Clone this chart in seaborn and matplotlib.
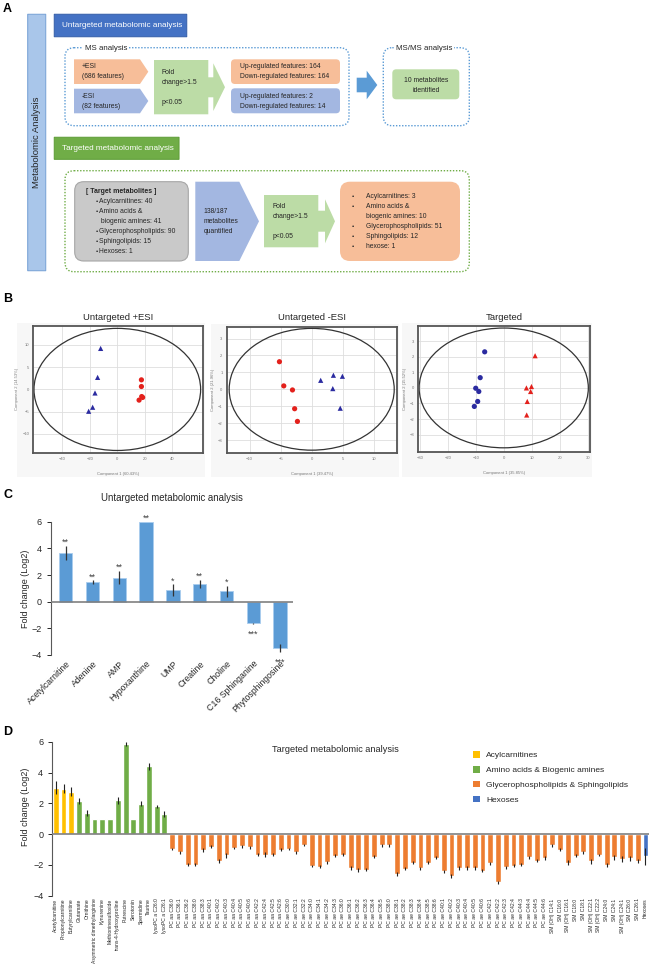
import numpy as np
import pandas as pd
import matplotlib
matplotlib.use("Agg")
import matplotlib.pyplot as plt
import seaborn as sns
from matplotlib.patches import FancyBboxPatch, Polygon, Rectangle, Ellipse

sns.set_style("white")
plt.rcParams["font.family"] = ["Liberation Sans", "DejaVu Sans"]

W, H = 650, 974

# ---------------- A: workflow text ----------------
side_title = "Metabolomic Analysis"
untargeted_title = "Untargeted metabolomic analysis"
targeted_title = "Targeted metabolomic analysis"
esi_pos = ["+ESI", "(686 features)"]
esi_neg = ["-ESI", "(82 features)"]
filter_text = ["Fold", "change>1.5", "", "p<0.05"]
pos_result = ["Up-regulated features: 164", "Down-regulated features: 164"]
neg_result = ["Up-regulated features: 2", "Down-regulated features: 14"]
msms_result = ["10 metabolites", "identified"]
target_panel = ["Acylcarnitines: 40", "Amino acids &", " biogenic amines: 41",
                "Glycerophospholipids: 90", "Sphingolipids: 15", "Hexoses: 1"]
target_bullets = [True, True, False, True, True, True]
quantified = ["138/187", "metabolites", "quantified"]
selected = ["Acylcarnitines: 3", "Amino acids &", "biogenic amines: 10",
            "Glycerophospholipids: 51", "Sphingolipids: 12", "hexose: 1"]
selected_bullets = [True, True, False, True, True, True]

# ---------------- B: PCA scores ----------------
pos_ctrl_x = [-12.1, -14.3, -16.2, -17.9, -20.8]
pos_ctrl_y = [9.2, 2.7, -0.8, -4.0, -4.9]
pos_case_x = [17.5, 17.5, 17.7, 18.4, 15.8]
pos_case_y = [2.15, 0.65, -1.6, -1.8, -2.4]

neg_ctrl_x = [1.45, 3.5, 4.95, 3.4, 4.6]
neg_ctrl_y = [0.53, 0.83, 0.77, 0.04, -1.12]
neg_case_x = [-5.2, -4.5, -3.1, -2.75, -2.3]
neg_case_y = [1.63, 0.2, -0.04, -1.15, -1.9]

tgt_ctrl_x = [-6.8, -8.4, -10.0, -8.9, -9.3, -10.5]
tgt_ctrl_y = [2.32, 0.66, -0.02, -0.23, -0.87, -1.19]
tgt_case_x = [11.2, 8.1, 9.9, 9.6, 8.4, 8.2]
tgt_case_y = [2.07, 0.0, 0.09, -0.23, -0.87, -1.74]

pca_titles = ["Untargeted +ESI", "Untargeted -ESI", "Targeted"]
pca_xlabels = ["Component 1 (60.43%)", "Component 1 (39.47%)", "Component 1 (35.85%)"]
pca_ylabels = ["Component 2 (14.53%)", "Component 2 (21.96%)", "Component 2 (15.52%)"]
ellipse_radii = [(60.5, 13.7), (13.3, 3.6), (30.2, 3.85)]

# ---------------- C: untargeted metabolites ----------------
untargeted_names = ["Acetylcarnitine", "Adenine", "AMP", "Hypoxanthine", "UMP",
                    "Creatine", "Choline", "C16 Sphinganine", "Phytosphingosine"]
untargeted_fc = [3.65, 1.45, 1.8, 6.0, 0.85, 1.33, 0.78, -1.62, -3.5]
untargeted_err = [0.55, 0.15, 0.5, 0.0, 0.45, 0.3, 0.4, 0.05, 0.3]
untargeted_sig = ["**", "**", "**", "**", "*", "**", "*", "***", "***"]

# ---------------- D: targeted metabolites ----------------
acyl_names = ["Acetylcarnitine", "Propionylcarnitine", "Butyrylcarnitine"]
acyl_fc = [3.02, 2.96, 2.76]
acyl_err = [0.4, 0.3, 0.3]

amine_names = ["Glutamate", "Ornithine", "Asymmetric dimethylarginine", "Kynurenine",
               "Methioninesulfoxide", "trans-4-Hydroxyproline", "Putrescine", "Serotonin",
               "Spermidine", "Taurine", "lysoPC a C26:0", "lysoPC a C26:1"]
amine_fc = [2.15, 1.35, 1.0, 1.0, 1.0, 2.2, 5.85, 1.0, 1.98, 4.41, 1.8, 1.33]
amine_err = [0.2, 0.2, 0, 0, 0, 0.22, 0.12, 0, 0.17, 0.22, 0.1, 0.2]

lipid_names = ["PC aa C36:0", "PC aa C36:1", "PC aa C36:2", "PC aa C38:0", "PC aa C38:3",
               "PC aa C40:1", "PC aa C40:2", "PC aa C40:3", "PC aa C40:4", "PC aa C40:5",
               "PC aa C40:6", "PC aa C42:2", "PC aa C42:4", "PC aa C42:5", "PC aa C42:6",
               "PC ae C30:0", "PC ae C32:1", "PC ae C32:2", "PC ae C34:0", "PC ae C34:1",
               "PC ae C34:2", "PC ae C34:3", "PC ae C36:0", "PC ae C36:1", "PC ae C36:2",
               "PC ae C36:3", "PC ae C36:4", "PC ae C36:5", "PC ae C38:0", "PC ae C38:1",
               "PC ae C38:2", "PC ae C38:3", "PC ae C38:4", "PC ae C38:5", "PC ae C38:6",
               "PC ae C40:1", "PC ae C40:2", "PC ae C40:3", "PC ae C40:4", "PC ae C40:5",
               "PC ae C40:6", "PC ae C42:1", "PC ae C42:2", "PC ae C42:3", "PC ae C42:4",
               "PC ae C44:3", "PC ae C44:4", "PC ae C44:5", "PC ae C44:6",
               "SM (OH) C14:1", "SM C16:0", "SM (OH) C16:1", "SM C18:0", "SM C18:1",
               "SM (OH) C22:1", "SM (OH) C22:2", "SM C24:0", "SM C24:1", "SM (OH) C24:1",
               "SM C26:0", "SM C26:1"]
lipid_fc = [-0.96, -1.18, -2.0, -2.0, -1.03, -0.82, -1.76, -1.38, -0.91, -0.78,
            -0.87, -1.33, -1.33, -1.33, -1.0, -0.96, -1.17, -0.7, -2.07, -2.12,
            -1.83, -1.39, -1.33, -2.2, -2.35, -2.3, -1.46, -0.74, -0.74, -2.59,
            -2.26, -1.87, -2.22, -1.85, -1.52, -2.41, -2.72, -2.2, -2.2, -2.2,
            -2.37, -1.89, -3.13, -2.15, -2.04, -2.0, -1.5, -1.72, -1.54,
            -0.74, -1.02, -1.85, -1.39, -1.17, -1.76, -1.35, -2.0, -1.5, -1.6,
            -1.57, -1.76]
lipid_err = [0.08, 0.1, 0.1, 0.1, 0.1, 0.08, 0.12, 0.15, 0.08, 0.1,
             0.1, 0.1, 0.15, 0.12, 0.08, 0.08, 0.1, 0.08, 0.08, 0.1,
             0.1, 0.1, 0.1, 0.12, 0.12, 0.1, 0.1, 0.1, 0.1, 0.1,
             0.1, 0.1, 0.1, 0.1, 0.08, 0.1, 0.1, 0.1, 0.1, 0.1,
             0.12, 0.1, 0.1, 0.1, 0.1, 0.1, 0.1, 0.1, 0.15,
             0.1, 0.1, 0.15, 0.12, 0.1, 0.15, 0.08, 0.12, 0.15, 0.2,
             0.17, 0.12]

hexose_names = ["Hexoses"]
hexose_fc = [-1.43]
hexose_err = [0.55]

class_labels = ["Acylcarnitines", "Amino acids & Biogenic amines",
                "Glycerophospholipids & Sphingolipids", "Hexoses"]
class_colors = ["#ffc000", "#70ad47", "#ed7d31", "#4472c4"]

# ================================================================
fig = plt.figure(figsize=(W / 100, H / 100), dpi=100)


def px_axes(x0, y0, x1, y1):
    return fig.add_axes([x0 / W, 1 - y1 / H, (x1 - x0) / W, (y1 - y0) / H])


TXT = "#262626"

# ---------------- A ----------------
axA = fig.add_axes([0, 1 - 290 / H, 1, 290 / H])
axA.set_xlim(0, W)
axA.set_ylim(290, 0)
axA.axis("off")


def box(x0, y0, x1, y1, fc, ec="none", r=0.1, lw=0.8, ls="-"):
    axA.add_patch(FancyBboxPatch((x0, y0), x1 - x0, y1 - y0,
                                 boxstyle=f"round,pad=0,rounding_size={r}",
                                 fc=fc, ec=ec, lw=lw, ls=ls))


def poly(pts, fc):
    axA.add_patch(Polygon(pts, closed=True, fc=fc, ec="none"))


def rows(x, y0, texts, dy=10, **kw):
    for i, t in enumerate(texts):
        axA.text(x, y0 + i * dy, t, va="center", fontsize=4.9, color=TXT, **kw)


dots = (0, (1, 1.2))

box(27.7, 14.3, 45.7, 270.7, "#a9c6ea", ec="#7ea6d8")
axA.text(36.7, 142, side_title, rotation=90, ha="center", va="center", fontsize=6.8, color=TXT)

box(54.3, 14.3, 186.7, 36.7, "#4472c4", ec="#3a63ad")
axA.text(62.3, 25.7, untargeted_title, va="center", fontsize=5.9, color="white")
box(54.3, 137.3, 179, 159.3, "#70ad47", ec="#62a03c")
axA.text(62.3, 148.7, targeted_title, va="center", fontsize=5.9, color="white")

box(65, 47.7, 349, 125.7, "none", ec="#5b9bd5", r=9, lw=1.0, ls=dots)
axA.text(85, 48, "MS analysis", va="center", fontsize=5.7, color=TXT,
         bbox=dict(fc="white", ec="none", pad=1.2))
box(383.3, 47.7, 469.3, 125.7, "none", ec="#5b9bd5", r=9, lw=1.0, ls=dots)
axA.text(395.5, 48, "MS/MS analysis", va="center", fontsize=5.7, color=TXT,
         bbox=dict(fc="white", ec="none", pad=1.2))
box(65, 170.7, 469.3, 271.7, "none", ec="#70ad47", r=9, lw=1.0, ls=dots)

poly([(74, 59.3), (140, 59.3), (148.3, 71.7), (140, 84), (74, 84)], "#f7be99")
rows(82, 66.7, esi_pos)
poly([(74, 88.7), (140, 88.7), (148.3, 101), (140, 113.3), (74, 113.3)], "#a3b7e1")
rows(82, 96, esi_neg)

poly([(154, 60), (208.3, 60), (208.3, 77.3), (213.3, 77.3), (213.3, 63.3), (225, 87.2),
      (213.3, 111), (213.3, 97.3), (208.3, 97.3), (208.3, 114.3), (154, 114.3)], "#bcdca6")
rows(162, 72.3, filter_text)

box(231, 59.3, 340, 84, "#f7be99", r=4)
rows(240, 66.7, pos_result)
box(231, 88.3, 340, 113.3, "#a3b7e1", r=4)
rows(240, 96, neg_result)

poly([(356.7, 77.7), (366.7, 77.7), (366.7, 70.7), (377.3, 85), (366.7, 99.3),
      (366.7, 92.3), (356.7, 92.3)], "#5b9bd5")
box(392.3, 69.3, 459.3, 99.3, "#bcdca6", r=4)
for i, t in enumerate(msms_result):
    axA.text(425.8, 80 + i * 10, t, ha="center", va="center", fontsize=4.9, color=TXT)

box(74.7, 181.7, 188.3, 261, "#c9c9c9", ec="#a6a6a6", r=9)
axA.text(86, 191.7, "[ Target metabolites ]", va="center", fontsize=5.0,
         fontweight="bold", color=TXT)
for i, (t, b) in enumerate(zip(target_panel, target_bullets)):
    y = 201.7 + i * 10
    if b:
        axA.text(95.5, y, "\u2022", va="center", fontsize=4.5, color=TXT)
    axA.text(99, y, t, va="center", fontsize=4.9, color=TXT)

poly([(195.3, 181.7), (239.3, 181.7), (259, 221.3), (239.3, 261), (195.3, 261)], "#a3b7e1")
rows(203.7, 211.3, quantified)

poly([(264, 195), (318.3, 195), (318.3, 210.7), (325, 210.7), (325, 199.3), (335, 221.3),
      (325, 243.3), (325, 231.7), (318.3, 231.7), (318.3, 247.3), (264, 247.3)], "#bcdca6")
rows(272.3, 206.3, filter_text)

box(340, 181.7, 460, 261, "#f7be99", r=10)
for i, (t, b) in enumerate(zip(selected, selected_bullets)):
    y = 196.7 + i * 10
    if b:
        axA.text(351.5, y, "\u2022", va="center", fontsize=4.5, color=TXT)
    axA.text(366.3, y, t, va="center", fontsize=4.9, color=TXT)

# ---------------- B ----------------
pca_sets = [
    (pos_ctrl_x, pos_ctrl_y, pos_case_x, pos_case_y, "^", "o"),
    (neg_ctrl_x, neg_ctrl_y, neg_case_x, neg_case_y, "^", "o"),
    (tgt_ctrl_x, tgt_ctrl_y, tgt_case_x, tgt_case_y, "o", "^"),
]
pca_boxes = [(33.3, 325.7, 202.7, 452.7), (226.7, 326.7, 396.7, 452.7), (418.3, 325.7, 590, 451.7)]
pca_limits = [((-61, 62), (-14.2, 14.3)), ((-13.7, 13.7), (-3.75, 3.7)), ((-30.5, 30.8), (-4.1, 4.0))]
pca_xticks = [[-40, -20, 0, 20, 40], [-10, -5, 0, 5, 10], [-30, -20, -10, 0, 10, 20, 30]]
pca_yticks = [[-10, -5, 0, 5, 10], [-3, -2, -1, 0, 1, 2, 3], [-3, -2, -1, 0, 1, 2, 3]]

for k in range(3):
    x0, y0, x1, y1 = pca_boxes[k]
    fig.patches.append(Rectangle(((x0 - 16) / W, 1 - 477 / H), (x1 - x0 + 18) / W, (477 - y0 + 3) / H,
                                 transform=fig.transFigure, fc="#f7f7f7", ec="none", zorder=-5))
    ax = px_axes(x0, y0, x1, y1)
    cx, cy, rx, ry, m_ctrl, m_case = pca_sets[k]
    df_b = pd.DataFrame({"c1": cx + rx, "c2": cy + ry,
                         "group": ["control"] * len(cx) + ["case"] * len(rx)})
    sns.scatterplot(data=df_b, x="c1", y="c2", hue="group", style="group",
                    palette={"control": "#2b2ba0", "case": "#e3211c"},
                    markers={"control": m_ctrl, "case": m_case},
                    s=14, linewidth=0, legend=False, ax=ax, zorder=3)
    ew, eh = ellipse_radii[k]
    ax.add_patch(Ellipse((0, 0), 2 * ew, 2 * eh, fill=False, ec="#333333", lw=0.9, zorder=2))
    ax.set_xlim(*pca_limits[k][0])
    ax.set_ylim(*pca_limits[k][1])
    ax.set_xticks(pca_xticks[k])
    ax.set_yticks(pca_yticks[k])
    ax.set_facecolor("white")
    ax.grid(True, color="#dedede", lw=0.6)
    ax.set_axisbelow(True)
    for s in ax.spines.values():
        s.set_color("#555555")
        s.set_linewidth(1.3)
    ax.tick_params(labelsize=3, colors="#777777", length=1.5, width=0.4, pad=1.5)
    ax.set_xlabel(pca_xlabels[k], fontsize=3, color="#777777", labelpad=8)
    ax.set_ylabel(pca_ylabels[k], fontsize=3, color="#777777", labelpad=2)
    fig.text((x0 + x1) / 2 / W, 1 - 317 / H, pca_titles[k], ha="center", va="center",
             fontsize=6.8, color=TXT)

# ---------------- C ----------------
axC = px_axes(50.7, 521.7, 293, 655)
sns.barplot(x=untargeted_names, y=untargeted_fc, color="#5b9bd5", saturation=1, width=0.5,
            errorbar=None, edgecolor="#a9cdee", linewidth=0.6, ax=axC)
axC.errorbar(np.arange(len(untargeted_fc)), untargeted_fc, yerr=untargeted_err, fmt="none",
             ecolor="#333333", elinewidth=0.9, zorder=4)
for i, (v, e, s) in enumerate(zip(untargeted_fc, untargeted_err, untargeted_sig)):
    y = v + e + 0.06 if v >= 0 else v - e - 0.95
    axC.text(i, y, s, ha="center", va="baseline", fontsize=6.5, color="#404040", clip_on=False)
axC.axhline(0, color="#808080", lw=1.2, zorder=5)
axC.set_xlim(-0.56, 8.48)
axC.set_ylim(-4, 6)
axC.set_yticks([-4, -2, 0, 2, 4, 6])
axC.set_xticks(np.arange(len(untargeted_names)))
axC.set_xticklabels(untargeted_names, rotation=45, ha="right", rotation_mode="anchor",
                    fontsize=6.3, color=TXT)
axC.tick_params(axis="x", length=0, pad=3)
axC.tick_params(axis="y", labelsize=6.5, colors=TXT, length=3, width=0.7, direction="out", left=True)
for s in ["top", "right", "bottom"]:
    axC.spines[s].set_visible(False)
axC.spines["left"].set_color("#595959")
axC.spines["left"].set_linewidth(0.8)
axC.set_xlabel("")
axC.set_ylabel("Fold change (Log2)", fontsize=6.5, color=TXT)
axC.yaxis.set_label_coords(-0.087, 0.5)
fig.text(172 / W, 1 - 497.7 / H, "Untargeted metabolomic analysis", ha="center", va="center",
         fontsize=6.9, color=TXT)

# ---------------- D ----------------
d_names = acyl_names + amine_names + lipid_names + hexose_names
d_fc = acyl_fc + amine_fc + lipid_fc + hexose_fc
d_err = acyl_err + amine_err + lipid_err + hexose_err
d_cls = ([class_labels[0]] * len(acyl_names) + [class_labels[1]] * len(amine_names)
         + [class_labels[2]] * len(lipid_names) + [class_labels[3]] * len(hexose_names))
df_d = pd.DataFrame({"metabolite": d_names, "fc": d_fc, "err": d_err, "cls": d_cls})

axD = px_axes(52.3, 741.7, 649.3, 895.7)
sns.barplot(data=df_d, x="metabolite", y="fc", hue="cls", hue_order=class_labels,
            palette=dict(zip(class_labels, class_colors)), saturation=1, dodge=False,
            width=0.75, errorbar=None, legend=False, ax=axD)
axD.errorbar(np.arange(len(d_fc)), d_fc, yerr=d_err, fmt="none", ecolor="#222222",
             elinewidth=0.8, zorder=4)
axD.axhline(0, color="#808080", lw=1.2, zorder=5)
axD.set_xlim(-0.45, len(d_fc) - 0.5)
axD.set_ylim(-4, 6)
axD.set_yticks([-4, -2, 0, 2, 4, 6])
axD.set_xticks(np.arange(len(d_names)))
axD.set_xticklabels(d_names, rotation=90, fontsize=3.6, color=TXT)
axD.tick_params(axis="x", length=0, pad=2)
axD.tick_params(axis="y", labelsize=6.5, colors=TXT, length=3, width=0.7, direction="out", left=True)
for s in ["top", "right", "bottom"]:
    axD.spines[s].set_visible(False)
axD.spines["left"].set_color("#595959")
axD.spines["left"].set_linewidth(0.8)
axD.set_xlabel("")
axD.set_ylabel("Fold change (Log2)", fontsize=6.5, color=TXT)
axD.yaxis.set_label_coords(-0.038, 0.58)
fig.text(335 / W, 1 - 749 / H, "Targeted metabolomic analysis", ha="center", va="center",
         fontsize=6.6, color=TXT)
handles = [Rectangle((0, 0), 1, 1, fc=c, ec="none") for c in class_colors]
fig.legend(handles, class_labels, loc="upper left", bbox_to_anchor=(473 / W, 1 - 751 / H),
           frameon=False, fontsize=6, handlelength=0.85, handleheight=0.85,
           handletextpad=0.7, labelspacing=0.8, borderpad=0, borderaxespad=0)

# panel letters
for letter, y in zip("ABCD", [9, 299, 495, 732]):
    fig.text(3 / W, 1 - y / H, letter, fontsize=9, fontweight="bold", va="center", color="black")

fig.savefig("out.png", dpi=100)
